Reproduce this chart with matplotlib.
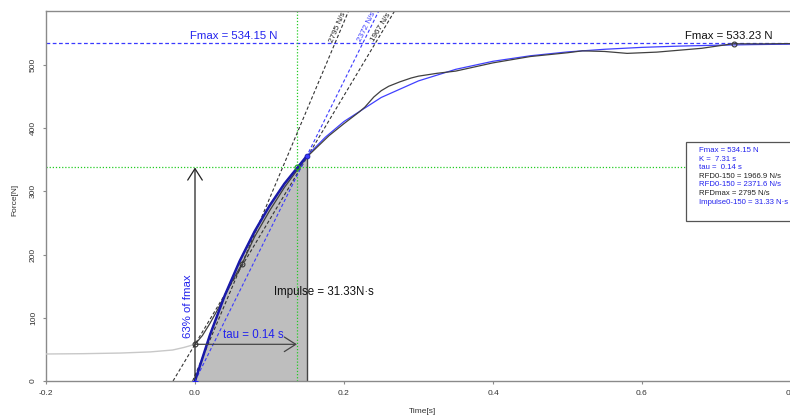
import matplotlib
matplotlib.use("Agg")
import numpy as np
import matplotlib.pyplot as plt
from matplotlib.patches import Rectangle

plt.rcParams['font.family'] = ['Liberation Sans', 'DejaVu Sans']

# baseline before onset (light gray)
pre_t = [-0.2, -0.15, -0.1, -0.06, -0.03, -0.015, 0.0]
pre_f = [42.7, 43.2, 44.2, 46.0, 49.0, 53.0, 58.0]

# measured force after onset
force_t = [0.0, 0.01, 0.02, 0.03, 0.04, 0.05, 0.063, 0.08, 0.1, 0.12, 0.15, 0.18,
           0.2, 0.21, 0.22, 0.228, 0.24, 0.25, 0.26, 0.275, 0.29, 0.3, 0.325, 0.35,
           0.4, 0.45, 0.5, 0.52, 0.55, 0.58, 0.62, 0.68, 0.722, 0.76, 0.8]
force_f = [58, 72, 91, 112, 135, 158, 185, 228, 269, 306, 354, 388,
           407, 416, 425, 433, 449, 459, 466, 473, 479, 482, 486.5, 490,
           503, 513, 519, 522, 521, 518, 520, 526, 533.2, 533, 533.5]

# fitted model curve
model_t = [0.0, 0.02, 0.04, 0.06, 0.08, 0.1, 0.12, 0.15, 0.175, 0.2, 0.25, 0.3,
           0.35, 0.4, 0.45, 0.5, 0.55, 0.6, 0.65, 0.7, 0.75, 0.8]
model_f = [0.0, 72.6, 135.4, 189.7, 236.5, 277.0, 311.9, 355.7, 385.5, 410.3, 448.3, 474.5,
           492.8, 505.5, 514.2, 520.3, 524.5, 527.5, 529.5, 530.9, 531.9, 532.6]

fmax_model = 534.15
fmax_data = 533.23
t_fmax_data = 0.724
tau = 0.1368
f63 = 337.6
f_onset = 58.0
t_rfdmax, f_rfdmax = 0.063, 185.0
rfd_max = 2795
rfd_data = 1966.9
rfd_model = 2371.6
t_end = 0.15

box_lines = ["Fmax = 534.15 N", "K =  7.31 s", "tau =  0.14 s",
             "RFD0-150 = 1966.9 N/s", "RFD0-150 = 2371.6 N/s",
             "RFDmax = 2795 N/s", "Impulse0-150 = 31.33 N\u00b7s"]
box_colors = ["#2222ee", "#2222ee", "#2222ee", "#222222", "#2222ee", "#222222", "#2222ee"]

BLUE = "#2222ee"
GRAY_AX = "#8a8a8a"
GREEN = "#22cc22"

fig = plt.figure(figsize=(7.9, 4.17), dpi=100)
ax = fig.add_axes([46 / 790, 36 / 417, 745 / 790, 370 / 417])
ax.set_xlim(-0.2, 0.8)
ax.set_ylim(0, 585)

# impulse area
mt = np.array(model_t)
mf = np.array(model_f)
sel = mt <= t_end
ax.fill_between(mt[sel], 0, mf[sel], color="#bebebe", lw=0, zorder=1)
ax.plot([t_end, t_end], [0, mf[sel][-1]], color="#444444", lw=1.0, zorder=2)

# reference lines
ax.axhline(fmax_model, color="#3a3aff", lw=0.9, ls=(0, (3, 2)), zorder=2)
ax.axhline(f63, color=GREEN, lw=0.9, ls=(0, (1, 1.5)), zorder=2)
ax.axvline(tau, color=GREEN, lw=0.9, ls=(0, (1, 1.5)), zorder=2)

# tangent / chord lines
ax.axline((t_rfdmax, f_rfdmax), slope=rfd_max, color="#333333", lw=0.8, ls=(0, (3, 2)), zorder=2)
ax.axline((0, f_onset), slope=rfd_data, color="#333333", lw=0.8, ls=(0, (3, 2)), zorder=2)
ax.axline((0, 0), slope=rfd_model, color="#3a3aff", lw=0.8, ls=(0, (3, 2)), zorder=2)

# curves
ax.plot(pre_t, pre_f, color="#c8c8c8", lw=1.0, zorder=3)
ax.plot(model_t, model_f, color="#4040ff", lw=0.9, zorder=3)
ax.plot(force_t, force_f, color="#404040", lw=0.9, zorder=4)
ax.plot(mt[sel], mf[sel], color="#1a1aa8", lw=1.8, zorder=5)

# markers
mk = dict(ls="none", marker="o", ms=3.5, mfc="none", mew=0.8, zorder=6)
ax.plot([0], [f_onset], mec="#333333", **mk)
ax.plot([t_rfdmax], [f_rfdmax], mec="#333333", **mk)
ax.plot([t_fmax_data], [fmax_data], mec="#333333", **mk)
ax.plot([tau], [f63], mec="#22aa22", **mk)
ax.plot([t_end], [mf[sel][-1]], ls="none", marker="o", ms=3.5, mfc="#3a3aff",
        mec="#1a1aa8", mew=0.6, zorder=6)
ax.plot([0], [0], ls="none", marker="+", ms=4, mec=BLUE, mew=0.8, zorder=6)

# arrows
arr = dict(arrowstyle="->,head_length=0.55,head_width=0.35", lw=0.9,
           shrinkA=0, shrinkB=0, mutation_scale=15)
ax.annotate("", xy=(0, f63), xytext=(0, 0), arrowprops=dict(color="#222222", **arr), zorder=5)
ax.annotate("", xy=(tau, f_onset), xytext=(0, f_onset),
            arrowprops=dict(color="#444444", **arr), zorder=5)

# text annotations
ax.text(0.0515, 545, "Fmax = 534.15 N", color=BLUE, fontsize=8.2, ha="center", va="center")
ax.text(0.717, 545, "Fmax = 533.23 N", color="#111111", fontsize=8.2, ha="center", va="center")
ax.text(0.1727, 140, "Impulse = 31.33N\u00b7s", color="#111111", fontsize=8.3,
        ha="center", va="center", zorder=7)
ax.text(0.078, 72, "tau = 0.14 s", color=BLUE, fontsize=8.3, ha="center", va="center", zorder=7)
ax.text(-0.0095, 119, "63% of fmax", color=BLUE, fontsize=8.2, rotation=90,
        ha="center", va="center", zorder=7)


def line_label(x0, y0, slope, ylab, text, color):
    xlab = x0 + (ylab - y0) / slope
    p1 = ax.transData.transform((xlab, ylab))
    p2 = ax.transData.transform((xlab + 0.01, ylab + slope * 0.01))
    ang = np.degrees(np.arctan2(p2[1] - p1[1], p2[0] - p1[0]))
    ax.text(xlab, ylab, text, color=color, fontsize=5.9, rotation=ang,
            rotation_mode="anchor", ha="center", va="bottom", zorder=7)


line_label(t_rfdmax, f_rfdmax, rfd_max, 557, "2795 N/s", "#222222")
line_label(0, 0, rfd_model, 557, "2372 N/s", "#3a3aff")
line_label(0, f_onset, rfd_data, 557, "1967 N/s", "#222222")

# info box
ax.add_patch(Rectangle((0.659, 253), 0.2, 125, facecolor="white", edgecolor="#555555",
                       lw=0.9, zorder=8, clip_on=False))
for i, (s, c) in enumerate(zip(box_lines, box_colors)):
    ax.text(0.6765, 364.4 - i * 13.6, s, color=c, fontsize=5.6, ha="left", va="center",
            zorder=9, clip_on=False)

# axes styling
for side in ["top", "left", "bottom", "right"]:
    ax.spines[side].set_color(GRAY_AX)
    ax.spines[side].set_linewidth(1.0)
ax.set_xticks([-0.2, 0.0, 0.2, 0.4, 0.6, 0.8])
ax.set_xticklabels(["-0.2", "0.0", "0.2", "0.4", "0.6", "0.8"])
ax.set_yticks([0, 100, 200, 300, 400, 500])
ax.tick_params(direction="out", length=2.5, width=0.8, color=GRAY_AX,
               labelsize=6, labelcolor="#333333")
ax.tick_params(axis="x", pad=4)
ax.tick_params(axis="y", pad=4)
for lab in ax.get_yticklabels():
    lab.set_rotation(90)
    lab.set_ha("right")
    lab.set_va("center")

fig.text(422 / 790, 1 - 411.5 / 417, "Time[s]", fontsize=6, color="#333333",
         ha="center", va="center")
fig.text(15 / 790, 1 - 200 / 417, "Force[N]", fontsize=6, color="#333333",
         rotation=90, ha="center", va="center")

fig.savefig("out.png", dpi=100)
